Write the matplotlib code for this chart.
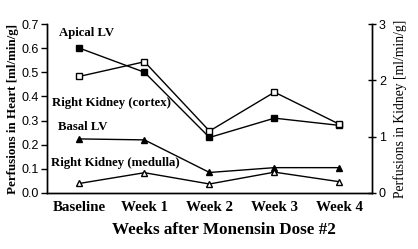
import matplotlib.pyplot as plt
import numpy as np
import matplotlib

matplotlib.rcParams['font.family'] = 'serif'
matplotlib.rcParams['font.serif'] = ['Liberation Serif', 'DejaVu Serif']

weeks = ['Baseline', 'Week 1', 'Week 2', 'Week 3', 'Week 4']

# Heart perfusion (left axis, ml/min/g)
apical_lv = [0.60, 0.50, 0.23, 0.31, 0.28]
basal_lv = [0.224, 0.22, 0.085, 0.105, 0.105]

# Kidney perfusion (right axis, ml/min/g)
kidney_cortex = [2.07, 2.33, 1.10, 1.79, 1.22]
kidney_medulla = [0.17, 0.36, 0.16, 0.37, 0.20]

x = np.arange(len(weeks))

fig = plt.figure(figsize=(4.18, 2.49), dpi=100)
ax = fig.add_axes([0.1124, 0.2249, 0.7775, 0.6787])
ax2 = ax.twinx()

ms = 4.5
ax.plot(x, apical_lv, color='black', lw=1, marker='s', ms=ms, mfc='black', mec='black', zorder=3)
ax.plot(x, basal_lv, color='black', lw=1, marker='^', ms=ms + 0.5, mfc='black', mec='black', zorder=3)
ax2.plot(x, kidney_cortex, color='black', lw=1, marker='s', ms=ms + 0.5, mfc='white', mec='black', zorder=3)
ax2.plot(x, kidney_medulla, color='black', lw=1, marker='^', ms=ms + 0.5, mfc='white', mec='black', zorder=3)

ax.set_xlim(-0.5, 4.5)
ax.set_ylim(0, 0.7)
ax2.set_ylim(0, 3)
ax.set_yticks(np.arange(0, 0.71, 0.1))
ax2.set_yticks([0, 1, 2, 3])
ax.set_xticks(x)
ax.set_xticklabels(weeks, fontsize=10.8, fontweight='bold')
ax.tick_params(axis='x', length=0, pad=6)
ax.tick_params(axis='y', direction='out', length=4, width=1, labelsize=9, pad=2)
ax2.tick_params(axis='y', direction='inout', length=6, width=1, labelsize=9, pad=2)
for lab in ax.get_yticklabels() + ax2.get_yticklabels():
    lab.set_family('Liberation Sans')
ax.yaxis.set_major_formatter(matplotlib.ticker.FormatStrFormatter('%.1f'))

for a in (ax, ax2):
    a.spines['top'].set_visible(False)
    for s in a.spines.values():
        s.set_linewidth(1)

ax.set_ylabel('Perfusions in Heart [ml/min/g]', fontsize=9.4, fontweight='bold')
ax2.set_ylabel('Perfusions in Kidney [ml/min/g]', fontsize=9.8)
ax.set_xlabel('Weeks after Monensin Dose #2', fontsize=12.3, fontweight='bold')
ax.yaxis.set_label_coords(-0.086, 0.5)
ax2.yaxis.set_label_coords(1.065, 0.5)
ax.xaxis.set_label_coords(0.546, -0.17)

lab_kw = dict(fontsize=9.2, fontweight='bold', va='center', ha='left')
ax.text(-0.315, 0.663, 'Apical LV', **lab_kw)
ax.text(-0.42, 0.373, 'Right Kidney (cortex)', **lab_kw)
ax.text(-0.33, 0.273, 'Basal LV', **lab_kw)
ax.text(-0.44, 0.124, 'Right Kidney (medulla)', **lab_kw)

plt.savefig('out.png', dpi=100)
plt.close()
